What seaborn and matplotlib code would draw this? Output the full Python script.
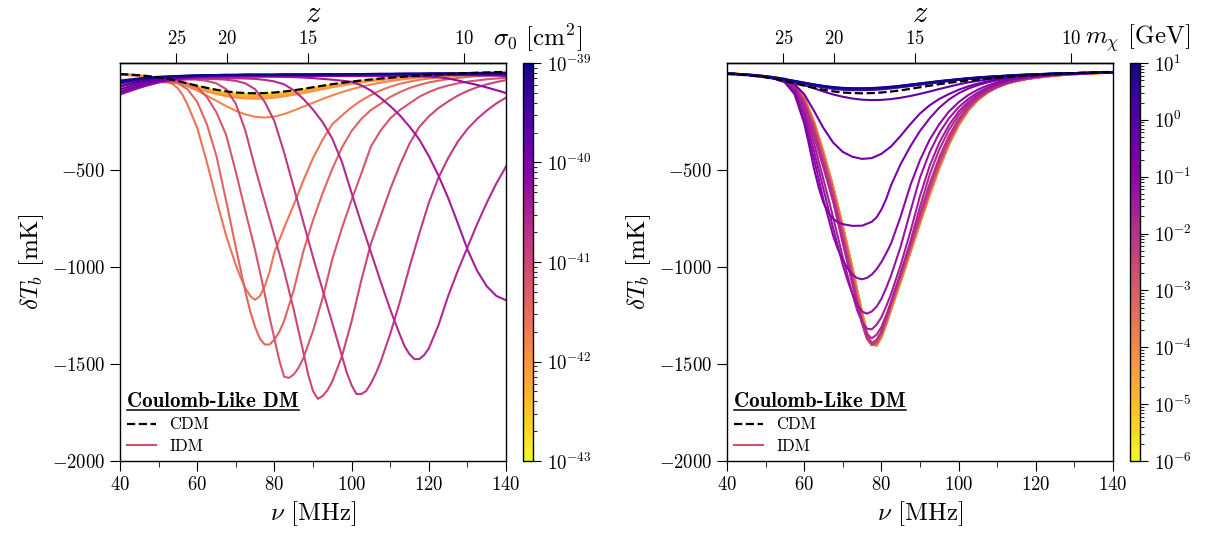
# 21-cm global signal for Coulomb-like interacting dark matter
# left: scan in sigma_0, right: scan in m_chi

import numpy as np
import pandas as pd
import matplotlib
matplotlib.use("Agg")
import matplotlib.pyplot as plt
from matplotlib.colors import LogNorm
from matplotlib.lines import Line2D
from matplotlib.ticker import MultipleLocator, NullLocator, NullFormatter, FixedLocator
import seaborn as sns

# frequency grid [MHz]
nu_mhz = [40, 42.5, 45, 47.5, 50, 52.5, 55, 57.5, 60, 62.5, 65, 67.5, 70, 72.5, 75, 77.5,
          80, 82.5, 85, 87.5, 90, 92.5, 95, 97.5, 100, 102.5, 105, 107.5, 110, 112.5, 115,
          117.5, 120, 122.5, 125, 127.5, 130, 132.5, 135, 137.5, 140]

# CDM reference curve [mK]
dtb_cdm = [-7, -10, -13, -18, -24, -32, -43, -55, -67, -78, -88, -96, -102, -105, -106, -105,
           -102, -97, -91, -83, -75, -67, -59, -52, -46, -40, -35, -30, -26, -22, -18, -15,
           -12, -9, -7, -4, -2, 0, 1, 3, 4]

# ---- left panel: sigma_0 [cm^2], 0.2 dex steps ----
sigma_vals = [1.0e-43, 1.58e-43, 2.51e-43, 3.98e-43, 6.31e-43, 1.0e-42, 1.58e-42, 2.51e-42,
              3.98e-42, 6.31e-42, 1.0e-41, 1.58e-41, 2.51e-41, 3.98e-41, 6.31e-41, 1.0e-40,
              1.58e-40, 2.51e-40, 3.98e-40, 6.31e-40, 1.0e-39]

sig_4300 = [-7, -10, -14, -19, -26, -34, -45, -57, -70, -82, -93, -101, -107, -110, -110, -109,
            -106, -101, -95, -87, -79, -70, -62, -55, -48, -42, -37, -32, -28, -24, -20, -16,
            -13, -10, -8, -5, -3, -1, 1, 2, 3]
sig_4280 = [-7, -10, -14, -19, -26, -34, -45, -57, -70, -83, -94, -102, -108, -111, -111, -110,
            -107, -102, -96, -88, -80, -71, -63, -55, -48, -42, -37, -32, -28, -24, -20, -16,
            -13, -10, -8, -5, -3, -1, 1, 2, 3]
sig_4260 = [-7, -10, -14, -19, -26, -35, -46, -58, -71, -84, -95, -103, -109, -112, -113, -112,
            -109, -104, -97, -89, -81, -72, -64, -56, -49, -43, -37, -32, -28, -24, -20, -16,
            -13, -10, -8, -5, -3, -1, 1, 2, 3]
sig_4240 = [-7, -10, -15, -20, -27, -36, -48, -61, -75, -87, -99, -108, -114, -117, -118, -117,
            -114, -108, -101, -93, -84, -75, -66, -58, -51, -44, -38, -33, -29, -25, -21, -17,
            -14, -11, -8, -6, -4, -2, 0, 1, 2]
sig_4220 = [-7, -10, -15, -21, -28, -38, -50, -64, -78, -91, -103, -113, -119, -123, -124, -123,
            -119, -113, -106, -97, -88, -78, -69, -61, -53, -46, -40, -35, -30, -25, -21, -17,
            -14, -11, -8, -6, -4, -2, 0, 1, 2]
sig_4200 = [-8, -11, -16, -22, -30, -40, -53, -68, -83, -97, -110, -121, -128, -132, -134, -133,
            -129, -122, -114, -105, -95, -85, -75, -66, -58, -50, -44, -38, -32, -27, -23, -19,
            -15, -12, -9, -7, -5, -3, -1, 0, 1]
sig_4180 = [-10, -13, -17, -22, -29, -38, -52, -70, -92, -118, -145, -172, -196, -215, -227, -231,
            -226, -213, -195, -175, -155, -135, -117, -100, -85, -72, -61, -51, -43, -36, -30, -25,
            -20, -16, -13, -10, -7, -5, -3, -1, 0]
sig_4160 = [-36, -37, -38, -40, -42, -50, -80, -165, -283, -460, -655, -840, -990, -1110, -1170, -1100,
            -925, -800, -680, -555, -440, -345, -265, -220, -178, -143, -115, -91, -72, -57, -46, -37,
            -30, -25, -20, -16, -13, -11, -9, -7, -6]
sig_4140 = [-48, -48, -48, -48, -48, -50, -55, -85, -150, -265, -430, -660, -900, -1130, -1310, -1400,
            -1375, -1280, -1120, -920, -760, -620, -495, -385, -300, -238, -192, -160, -125, -100, -79,
            -63, -50, -41, -33, -27, -22, -18, -15, -13, -11]
sig_4120 = [-58, -55, -52, -49, -47, -46, -47, -55, -75, -125, -205, -320, -510, -715, -913, -1140,
            -1370, -1565, -1555, -1470, -1330, -1160, -960, -800, -655, -520, -380, -298, -235, -192,
            -158, -124, -100, -80, -66, -55, -46, -40, -34, -30, -26]
sig_4100 = [-70, -62, -54, -46, -40, -36, -34, -34, -36, -42, -55, -85, -160, -300, -490, -665,
            -840, -1020, -1220, -1440, -1640, -1665, -1590, -1460, -1280, -1070, -880, -740, -600,
            -475, -365, -280, -225, -182, -148, -118, -94, -75, -60, -48, -38]
sig_4080 = [-84, -74, -64, -55, -47, -41, -37, -34, -32, -32, -33, -36, -42, -55, -85, -150,
            -250, -410, -590, -770, -950, -1120, -1290, -1460, -1610, -1655, -1600, -1490, -1345,
            -1180, -1000, -830, -670, -540, -440, -355, -290, -238, -195, -158, -128]
sig_4060 = [-96, -82, -68, -56, -46, -39, -34, -31, -29, -28, -28, -28, -29, -30, -32, -37,
            -45, -60, -90, -135, -190, -255, -340, -460, -620, -775, -925, -1075, -1220, -1350,
            -1450, -1475, -1420, -1300, -1150, -1020, -900, -780, -670, -570, -483]
sig_4040 = [-108, -92, -76, -62, -50, -40, -33, -28, -25, -23, -22, -21, -21, -21, -21, -21,
            -21, -22, -23, -25, -28, -32, -36, -41, -47, -65, -92, -130, -172, -220, -278, -343,
            -430, -530, -645, -775, -910, -1020, -1100, -1150, -1172]
sig_4020 = [-112, -95, -78, -63, -50, -40, -32, -27, -23, -21, -19, -18, -18, -17, -17, -17,
            -17, -17, -17, -17, -17, -17, -17, -17, -17, -17, -17, -17, -17, -17, -18, -19,
            -20, -23, -30, -40, -52, -63, -76, -90, -105]
sig_4000 = [-100, -84, -69, -56, -45, -36, -29, -24, -21, -19, -18, -17, -17, -16, -16, -16,
            -16, -15, -15, -15, -15, -14, -14, -14, -13, -13, -12, -12, -12, -11, -11, -11,
            -11, -11, -11, -12, -12, -13, -14, -15, -17]
sig_3980 = [-85, -71, -58, -47, -38, -31, -26, -22, -19, -17, -16, -15, -15, -14, -14, -14,
            -14, -13, -13, -13, -13, -12, -12, -12, -11, -11, -10, -10, -10, -9, -9, -9,
            -8, -8, -8, -8, -8, -8, -8, -8, -8]
sig_3960 = [-70, -58, -47, -38, -31, -26, -22, -19, -17, -15, -14, -13, -13, -12, -12, -12,
            -12, -11, -11, -11, -11, -10, -10, -10, -9, -9, -8, -8, -8, -7, -7, -7,
            -6, -6, -6, -6, -5, -5, -5, -5, -5]
sig_3940 = [-55, -46, -38, -31, -26, -22, -19, -17, -15, -14, -13, -12, -12, -11, -11, -11,
            -11, -10, -10, -10, -10, -9, -9, -9, -8, -8, -7, -7, -7, -6, -6, -6,
            -5, -5, -5, -5, -4, -4, -4, -4, -4]
sig_3920 = [-48, -40, -33, -28, -23, -20, -18, -16, -14, -13, -12, -11, -11, -10, -10, -10,
            -10, -9, -9, -9, -9, -8, -8, -8, -7, -7, -7, -6, -6, -6, -5, -5,
            -5, -4, -4, -4, -3, -3, -3, -3, -3]
sig_3900 = [-42, -35, -29, -25, -21, -19, -17, -15, -14, -13, -12, -11, -11, -10, -10, -10,
            -10, -9, -9, -9, -9, -8, -8, -8, -7, -7, -6, -6, -6, -5, -5, -5,
            -4, -4, -4, -4, -3, -3, -3, -3, -3]

# extra (nu, dTb) samples read near the troughs, where the curves bend fast
sig_4160_fine = [(53.75, -60), (56.25, -115), (71.25, -1055), (73.75, -1150), (76.25, -1150), (78.75, -1025)]
sig_4140_fine = [(73.75, -1230), (76.25, -1370), (78.75, -1400), (81.25, -1335)]
sig_4120_fine = [(78.75, -1260), (81.25, -1480), (83.75, -1572), (86.25, -1520)]
sig_4100_fine = [(88.75, -1555), (91.25, -1680), (93.75, -1635)]
sig_4080_fine = [(98.75, -1545), (101.25, -1655), (103.75, -1640), (106.25, -1550)]
sig_4060_fine = [(113.75, -1410), (116.25, -1475), (118.75, -1455)]

sigma_curves = [sig_4300, sig_4280, sig_4260, sig_4240, sig_4220, sig_4200, sig_4180, sig_4160,
                sig_4140, sig_4120, sig_4100, sig_4080, sig_4060, sig_4040, sig_4020, sig_4000,
                sig_3980, sig_3960, sig_3940, sig_3920, sig_3900]
sigma_fine = [[], [], [], [], [], [], [], sig_4160_fine, sig_4140_fine, sig_4120_fine,
              sig_4100_fine, sig_4080_fine, sig_4060_fine, [], [], [], [], [], [], [], []]

# ---- right panel: m_chi [GeV], 0.25 dex steps ----
mass_vals = [1.0e-6, 1.78e-6, 3.16e-6, 5.62e-6, 1.0e-5, 1.78e-5, 3.16e-5, 5.62e-5, 1.0e-4,
             1.78e-4, 3.16e-4, 5.62e-4, 1.0e-3, 1.78e-3, 3.16e-3, 5.62e-3, 1.0e-2, 1.78e-2,
             3.16e-2, 5.62e-2, 0.1, 0.178, 0.316, 0.562, 1.0, 1.78, 3.16, 5.62, 10.0]

# light masses all saturate to the same, deepest trough
mx_band_e = [-4, -6, -9, -13, -18, -24, -32, -58, -128, -250, -410, -588, -790, -1008, -1235, -1397,
             -1362, -1220, -1075, -925, -775, -628, -490, -370, -270, -195, -140, -102, -75, -56, -43,
             -33, -26, -20, -15, -11, -8, -5, -3, -1, 1]
mx_band_d = [-4, -6, -9, -13, -18, -25, -33, -61, -137, -265, -430, -609, -815, -1034, -1262, -1401,
             -1350, -1203, -1058, -908, -758, -612, -475, -358, -260, -188, -135, -98, -72, -54, -41,
             -32, -25, -19, -14, -10, -7, -4, -2, 0, 1]
mx_band_c = [-4, -7, -10, -14, -19, -26, -35, -65, -147, -280, -450, -630, -840, -1060, -1290, -1403,
             -1335, -1185, -1040, -890, -740, -595, -460, -345, -250, -180, -130, -95, -70, -52, -40,
             -31, -24, -18, -14, -10, -7, -4, -2, 0, 2]
mx_m225 = [-4, -7, -10, -15, -20, -27, -35, -65, -150, -290, -460, -638, -845, -1065, -1288, -1400,
           -1335, -1185, -1037, -888, -738, -590, -452, -338, -247, -180, -133, -99, -74, -55, -42,
           -32, -24, -17, -12, -8, -5, -3, -1, 0, 1]
mx_m200 = [-4, -7, -10, -15, -20, -27, -35, -67, -155, -300, -470, -645, -855, -1075, -1285, -1392,
           -1335, -1185, -1035, -885, -725, -570, -435, -325, -238, -175, -130, -97, -72, -54, -41,
           -31, -23, -17, -12, -8, -5, -3, -1, 0, 1]
mx_m175 = [-4, -7, -11, -15, -21, -28, -36, -72, -170, -325, -490, -665, -880, -1090, -1280, -1368,
           -1310, -1180, -1030, -870, -690, -525, -395, -295, -218, -162, -121, -91, -68, -51, -38,
           -29, -22, -16, -12, -8, -5, -3, -1, 0, 1]
mx_m150 = [-4, -7, -11, -16, -21, -29, -38, -80, -190, -360, -550, -745, -950, -1140, -1285, -1322,
           -1260, -1140, -990, -820, -635, -480, -360, -270, -200, -150, -113, -85, -64, -48, -36,
           -27, -20, -15, -11, -8, -5, -3, -1, 0, 1]
mx_m125 = [-4, -7, -11, -16, -22, -31, -42, -92, -215, -400, -600, -800, -990, -1140, -1230, -1230,
           -1165, -1045, -895, -715, -540, -410, -310, -235, -178, -135, -102, -77, -58, -44, -33,
           -25, -19, -14, -10, -7, -5, -3, -1, 0, 1]
mx_m100 = [-4, -7, -11, -16, -22, -32, -48, -105, -245, -440, -655, -840, -965, -1040, -1064, -1040,
           -975, -880, -740, -580, -450, -345, -265, -200, -152, -115, -87, -66, -50, -38, -29,
           -22, -17, -13, -9, -7, -5, -3, -1, 0, 1]
mx_m075 = [-4, -7, -11, -16, -22, -32, -50, -110, -260, -490, -670, -752, -780, -789, -788, -768,
           -705, -580, -470, -380, -300, -235, -180, -138, -106, -82, -64, -50, -39, -30, -24,
           -18, -14, -11, -8, -6, -4, -2, -1, 0, 1]
mx_m050 = [-4, -7, -11, -16, -22, -30, -40, -60, -110, -195, -285, -360, -408, -433, -444, -440,
           -418, -380, -325, -265, -210, -168, -135, -110, -88, -70, -56, -45, -36, -29, -23,
           -18, -14, -11, -8, -6, -4, -2, -1, 0, 1]
mx_m025 = [-4, -7, -11, -16, -22, -30, -40, -52, -64, -80, -97, -112, -124, -133, -139, -141,
           -140, -136, -129, -120, -109, -97, -84, -72, -60, -50, -42, -35, -29, -24, -20,
           -16, -13, -10, -8, -6, -4, -2, -1, 0, 1]
mx_p000 = [-4, -7, -11, -15, -21, -28, -37, -47, -57, -67, -76, -83, -88, -90, -90, -89,
           -86, -81, -75, -69, -62, -55, -49, -43, -37, -32, -28, -24, -20, -17, -14,
           -12, -9, -7, -5, -4, -2, -1, 0, 1, 2]
mx_p025 = [-4, -7, -11, -15, -21, -28, -36, -46, -56, -65, -74, -81, -85, -87, -87, -86,
           -83, -79, -73, -67, -60, -54, -48, -42, -36, -31, -27, -23, -20, -17, -14,
           -11, -9, -7, -5, -4, -2, -1, 0, 1, 2]
mx_p050 = [-4, -7, -10, -15, -20, -27, -35, -44, -54, -63, -71, -78, -82, -84, -84, -83,
           -80, -76, -70, -64, -58, -52, -46, -40, -35, -30, -26, -22, -19, -16, -13,
           -11, -9, -7, -5, -3, -2, -1, 0, 1, 2]
mx_p075 = [-4, -7, -10, -14, -19, -26, -34, -43, -52, -61, -69, -76, -80, -82, -82, -81,
           -78, -74, -68, -62, -56, -50, -44, -39, -34, -29, -25, -21, -18, -15, -12,
           -10, -8, -6, -4, -3, -2, -1, 0, 1, 2]
mx_p100 = [-4, -7, -10, -14, -19, -25, -33, -42, -51, -60, -68, -74, -78, -80, -80, -79,
           -76, -72, -67, -61, -55, -49, -43, -38, -33, -28, -24, -21, -18, -15, -12,
           -10, -8, -6, -4, -3, -2, -1, 0, 1, 2]

mx_band_e_fine = [(73.75, -1122), (76.25, -1340), (78.75, -1405), (81.25, -1295)]
mx_band_d_fine = [(73.75, -1150), (76.25, -1355), (78.75, -1398), (81.25, -1280)]
mx_band_c_fine = [(73.75, -1180), (76.25, -1370), (78.75, -1385), (81.25, -1262)]
mx_m225_fine = [(73.75, -1180), (76.25, -1365), (78.75, -1380), (81.25, -1262)]
mx_m200_fine = [(73.75, -1190), (76.25, -1360), (78.75, -1375), (81.25, -1262)]
mx_m175_fine = [(73.75, -1195), (76.25, -1345), (78.75, -1350), (81.25, -1248)]
mx_m150_fine = [(73.75, -1225), (76.25, -1318), (78.75, -1298), (81.25, -1203)]
mx_m125_fine = [(71.25, -1070), (73.75, -1195), (76.25, -1241), (78.75, -1205), (81.25, -1108)]
mx_m100_fine = [(68.75, -910), (71.25, -1008), (73.75, -1058), (76.25, -1057), (78.75, -1012), (81.25, -930)]
mx_m075_fine = [(61.25, -370), (63.75, -590), (66.25, -722), (68.75, -770), (78.75, -745), (81.25, -650)]

mass_curves = [mx_band_e] * 9 + [mx_band_d] * 4 + [mx_band_c] * 2 + [
    mx_m225, mx_m200, mx_m175, mx_m150, mx_m125, mx_m100, mx_m075, mx_m050, mx_m025,
    mx_p000, mx_p025, mx_p050, mx_p075, mx_p100]
mass_fine = [mx_band_e_fine] * 9 + [mx_band_d_fine] * 4 + [mx_band_c_fine] * 2 + [
    mx_m225_fine, mx_m200_fine, mx_m175_fine, mx_m150_fine, mx_m125_fine, mx_m100_fine,
    mx_m075_fine, [], [], [], [], [], [], []]

xticks_nu = [40, 60, 80, 100, 120, 140]
yticks_dtb = [-2000, -1500, -1000, -500]
zticks = [10, 15, 20, 25]
sigma_cbar_ticks = [1e-43, 1e-42, 1e-41, 1e-40, 1e-39]
mass_cbar_ticks = [1e-6, 1e-5, 1e-4, 1e-3, 1e-2, 1e-1, 1e0, 1e1]

plt.rcParams.update({
    "font.family": "serif",
    "font.serif": ["cmr10"],
    "mathtext.fontset": "cm",
    "axes.formatter.use_mathtext": True,
    "axes.linewidth": 1.0,
    "xtick.major.size": 7,
    "xtick.minor.size": 4,
    "ytick.major.size": 7,
    "ytick.minor.size": 4,
})

cmap = plt.get_cmap("plasma_r")
idm_color = plt.get_cmap("plasma")(0.53)


def long_table(params, curves, fines):
    frames = []
    for p, c, f in zip(params, curves, fines):
        pts = sorted(list(zip(nu_mhz, c)) + list(f))
        frames.append(pd.DataFrame({"nu": [q[0] for q in pts], "dtb": [q[1] for q in pts], "par": p}))
    return pd.concat(frames, ignore_index=True)


def nu2z(nu):
    nu = np.asarray(nu, dtype=float)
    with np.errstate(divide="ignore", invalid="ignore"):
        return 1420.4 / nu - 1


def z2nu(z):
    z = np.asarray(z, dtype=float)
    with np.errstate(divide="ignore", invalid="ignore"):
        return 1420.4 / (z + 1)


fig = plt.figure(figsize=(12.13, 5.37), dpi=100)
ax1 = fig.add_axes([0.0989, 0.1415, 0.3183, 0.7412])
cax1 = fig.add_axes([0.4312, 0.1415, 0.0085, 0.7412])
ax2 = fig.add_axes([0.5993, 0.1415, 0.3183, 0.7412])
cax2 = fig.add_axes([0.9316, 0.1415, 0.0085, 0.7412])

panels = [
    (ax1, cax1, sigma_vals, sigma_curves, sigma_fine, LogNorm(1e-43, 1e-39), sigma_cbar_ticks,
     r"$\sigma_0$ [cm$^2$]", 0.4435),
    (ax2, cax2, mass_vals, mass_curves, mass_fine, LogNorm(1e-6, 1e1), mass_cbar_ticks,
     r"$m_\chi$ [GeV]", 0.9380),
]

legends = []
for ax, cax, vals, curves, fines, norm, cticks, clabel, cx in panels:
    df = long_table(vals, curves, fines)
    pal = {p: cmap(norm(p)) for p in vals}
    # drawn from small to large parameter, so the dark curves end up on top
    sns.lineplot(data=df, x="nu", y="dtb", hue="par", hue_order=sorted(vals), palette=pal,
                 estimator=None, errorbar=None, lw=1.5, legend=False, ax=ax)
    ax.plot(nu_mhz, dtb_cdm, color="k", ls="--", lw=1.6, zorder=5)

    ax.set_xlim(40, 140)
    ax.set_ylim(-2000, 50)
    ax.set_xticks(xticks_nu)
    ax.xaxis.set_minor_locator(MultipleLocator(10))
    ax.set_yticks(yticks_dtb)
    ax.tick_params(labelsize=13.5)
    ax.set_xlabel(r"$\nu$ [MHz]", fontsize=18)
    ax.set_ylabel(r"$\delta T_b$ [mK]", fontsize=18)

    secax = ax.secondary_xaxis("top", functions=(nu2z, z2nu))
    secax.set_xticks(zticks)
    secax.xaxis.set_minor_locator(NullLocator())
    secax.tick_params(labelsize=13.5)
    secax.set_xlabel(r"$z$", fontsize=22, labelpad=6)

    handles = [Line2D([], [], color="k", ls="--", lw=1.6, label="CDM"),
               Line2D([], [], color=idm_color, lw=1.5, label="IDM")]
    leg = ax.legend(handles=handles, loc="lower left", frameon=False, title="Coulomb-Like DM",
                    alignment="left", fontsize=12,
                    title_fontproperties={"family": "cmb10", "size": 15},
                    handlelength=1.7, borderaxespad=0.25, borderpad=0.2, labelspacing=0.35)
    legends.append(leg)

    sm = plt.cm.ScalarMappable(norm=norm, cmap=cmap)
    cb = fig.colorbar(sm, cax=cax)
    cb.set_ticks(cticks)
    minor = [m * t for t in cticks[:-1] for m in range(2, 10)]
    cb.ax.yaxis.set_minor_locator(FixedLocator(minor))
    cb.ax.yaxis.set_minor_formatter(NullFormatter())
    cb.ax.tick_params(labelsize=13.5)
    cb.ax.tick_params(which="major", length=6)
    cb.ax.tick_params(which="minor", length=3)
    fig.text(cx, 0.929, clabel, fontsize=18, ha="center", va="center")

# underline the legend titles
fig.canvas.draw()
renderer = fig.canvas.get_renderer()
inv = fig.transFigure.inverted()
for leg in legends:
    bb = leg.get_title().get_window_extent(renderer)
    (x0, y0), (x1, _) = inv.transform([(bb.x0, bb.y0), (bb.x1, bb.y1)])
    fig.add_artist(Line2D([x0, x1], [y0 + 0.002, y0 + 0.002], color="k", lw=1.1,
                          transform=fig.transFigure))

fig.savefig("out.png", dpi=100)
